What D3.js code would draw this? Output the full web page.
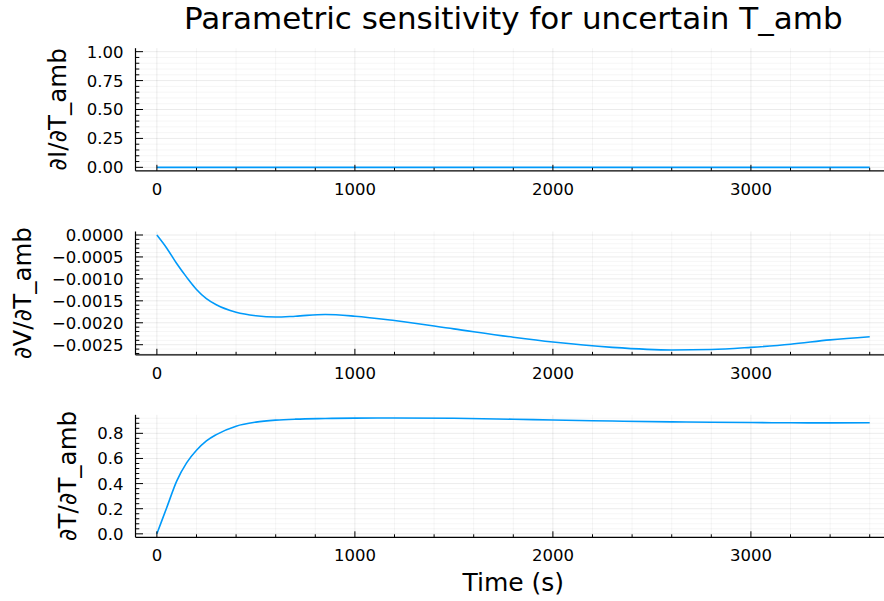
<!DOCTYPE html>
<html><head><meta charset="utf-8">
<script src="https://cdn.jsdelivr.net/npm/d3@7/dist/d3.min.js"></script>
<style>
body{margin:0;background:#fff}
svg{display:block}
text{font-family:"DejaVu Sans",sans-serif;fill:#000}
</style>
</head><body><svg id="c" width="884" height="601"></svg>
<script>
const title = "Parametric sensitivity for uncertain T_amb";
const xLabel = "Time (s)";
const yLabels = ["∂I/∂T_amb", "∂V/∂T_amb", "∂T/∂T_amb"];

const times = [0, 50, 100, 150, 200, 250, 300, 400, 500, 600, 700, 850, 1000, 1200, 1500, 1800, 2000, 2300, 2600, 2800, 3000, 3200, 3400, 3600];
const dIdTamb = [0, 0, 0, 0, 0, 0, 0, 0, 0, 0, 0, 0, 0, 0, 0, 0, 0, 0, 0, 0, 0, 0, 0, 0];
const dVdTamb = [0, -0.00030, -0.00065, -0.00096, -0.00124, -0.00145, -0.00159, -0.00176, -0.00184, -0.00187, -0.00185, -0.00181, -0.00185, -0.00195, -0.00214, -0.00233, -0.00244, -0.00256, -0.00262, -0.00261, -0.00256, -0.00249, -0.00239, -0.00232];
const dTdTamb = [0, 0.21, 0.42, 0.565, 0.665, 0.74, 0.79, 0.857, 0.889, 0.905, 0.913, 0.918, 0.921, 0.922, 0.92, 0.912, 0.906, 0.898, 0.891, 0.888, 0.886, 0.884, 0.883, 0.884];

const xLimits = [-108, 3708];
const xTicks = [0, 1000, 2000, 3000];
const xTickLabels = ["0", "1000", "2000", "3000"];
const xMinorStep = 200;

const yLimits1 = [-0.03, 1.03];
const yTicks1 = [0, 0.25, 0.5, 0.75, 1.0];
const yTickLabels1 = ["0.00", "0.25", "0.50", "0.75", "1.00"];
const yMinorStep1 = 0.05;

const yLimits2 = [-0.00273, 0.00008];
const yTicks2 = [0, -0.0005, -0.001, -0.0015, -0.002, -0.0025];
const yTickLabels2 = ["0.0000", "\u22120.0005", "\u22120.0010", "\u22120.0015", "\u22120.0020", "\u22120.0025"];
const yMinorStep2 = 0.0001;

const yLimits3 = [-0.0276, 0.9476];
const yTicks3 = [0, 0.2, 0.4, 0.6, 0.8];
const yTickLabels3 = ["0.0", "0.2", "0.4", "0.6", "0.8"];
const yMinorStep3 = 0.04;

const lineColor = "#009AFA";

const svg = d3.select("#c");
const left = 135.5, right = 891.1;
const panelBox = [[48.2, 170.8], [231.5, 354.8], [414.8, 537.3]];

const panels = [
  {values: dIdTamb, lim: yLimits1, ticks: yTicks1, labels: yTickLabels1, minor: yMinorStep1, ylab: yLabels[0]},
  {values: dVdTamb, lim: yLimits2, ticks: yTicks2, labels: yTickLabels2, minor: yMinorStep2, ylab: yLabels[1]},
  {values: dTdTamb, lim: yLimits3, ticks: yTicks3, labels: yTickLabels3, minor: yMinorStep3, ylab: yLabels[2]}
];

const x = d3.scaleLinear().domain(xLimits).range([left, right]);
const xMinor = d3.range(xTicks[0], xLimits[1], xMinorStep);

panels.forEach((p, i) => {
  const [top, bot] = panelBox[i];
  const y = d3.scaleLinear().domain(p.lim).range([bot, top]);
  const g = svg.append("g");
  const lo = Math.ceil(p.lim[0] / p.minor - 1e-9), hi = Math.floor(p.lim[1] / p.minor + 1e-9);
  const yMinor = d3.range(lo, hi + 1).map(k => k * p.minor);
  const isMajorY = v => p.ticks.some(t => Math.abs(t - v) < p.minor * 1e-3);
  const isMajorX = v => xTicks.some(t => Math.abs(t - v) < 1e-6);

  // minor grid
  g.selectAll(".mgy").data(yMinor.filter(v => !isMajorY(v))).join("line")
    .attr("x1", left).attr("x2", right).attr("y1", d => y(d)).attr("y2", d => y(d))
    .attr("stroke", "#000").attr("stroke-opacity", 0.05).attr("stroke-width", 0.8);
  g.selectAll(".mgx").data(xMinor.filter(v => !isMajorX(v))).join("line")
    .attr("y1", top).attr("y2", bot).attr("x1", d => x(d)).attr("x2", d => x(d))
    .attr("stroke", "#000").attr("stroke-opacity", 0.05).attr("stroke-width", 0.8);
  // major grid
  g.selectAll(".gy").data(p.ticks).join("line")
    .attr("x1", left).attr("x2", right).attr("y1", d => y(d)).attr("y2", d => y(d))
    .attr("stroke", "#000").attr("stroke-opacity", 0.1).attr("stroke-width", 0.8);
  g.selectAll(".gx").data(xTicks).join("line")
    .attr("y1", top).attr("y2", bot).attr("x1", d => x(d)).attr("x2", d => x(d))
    .attr("stroke", "#000").attr("stroke-opacity", 0.1).attr("stroke-width", 0.8);

  // line
  const clipId = "clip" + i;
  svg.append("clipPath").attr("id", clipId).append("rect")
    .attr("x", left).attr("y", top - 2).attr("width", right - left).attr("height", bot - top + 4);
  svg.append("path").datum(times.map((t, k) => [t, p.values[k]]))
    .attr("clip-path", `url(#${clipId})`)
    .attr("fill", "none").attr("stroke", lineColor).attr("stroke-width", 1.6)
    .attr("d", d3.line().x(d => x(d[0])).y(d => y(d[1])).curve(d3.curveMonotoneX));

  // axes lines
  const ax = svg.append("g");
  ax.append("line").attr("x1", left).attr("x2", right).attr("y1", bot).attr("y2", bot).attr("stroke", "#000").attr("stroke-width", 1.2);
  ax.append("line").attr("x1", left).attr("x2", left).attr("y1", top).attr("y2", bot).attr("stroke", "#000").attr("stroke-width", 1.2);
  // y ticks
  ax.selectAll(".ty").data(yMinor).join("line")
    .attr("x1", left).attr("x2", d => left + (isMajorY(d) ? 7.5 : 3.8))
    .attr("y1", d => y(d)).attr("y2", d => y(d)).attr("stroke", "#000").attr("stroke-width", 1);
  // x ticks
  ax.selectAll(".tx").data(xMinor).join("line")
    .attr("y1", bot).attr("y2", d => bot - (isMajorX(d) ? 6 : 3))
    .attr("x1", d => x(d)).attr("x2", d => x(d)).attr("stroke", "#000").attr("stroke-width", 1);

  // tick labels
  const yl = ax.selectAll(".tly").data(p.ticks).join("text")
    .attr("x", left - 12).attr("y", d => y(d)).attr("dy", "0.36em")
    .attr("text-anchor", "end").attr("font-size", 16.5).text((d, k) => p.labels[k]);
  ax.selectAll(".tlx").data(xTicks).join("text")
    .attr("x", d => x(d)).attr("y", bot + 24)
    .attr("text-anchor", "middle").attr("font-size", 16.5).text((d, k) => xTickLabels[k]);

  let minLeft = Infinity;
  yl.each(function () { minLeft = Math.min(minLeft, this.getBBox().x); });
  const bx = minLeft - 21, by = (top + bot) / 2;
  svg.append("text").attr("transform", `translate(${bx},${by}) rotate(-90)`)
    .attr("text-anchor", "middle").attr("font-size", 24.5).text(p.ylab);
});

svg.append("text").attr("x", (left + right) / 2).attr("y", 29)
  .attr("text-anchor", "middle").attr("font-size", 31).text(title);
svg.append("text").attr("x", (left + right) / 2).attr("y", 591)
  .attr("text-anchor", "middle").attr("font-size", 25).text(xLabel);
</script>
</body></html>
